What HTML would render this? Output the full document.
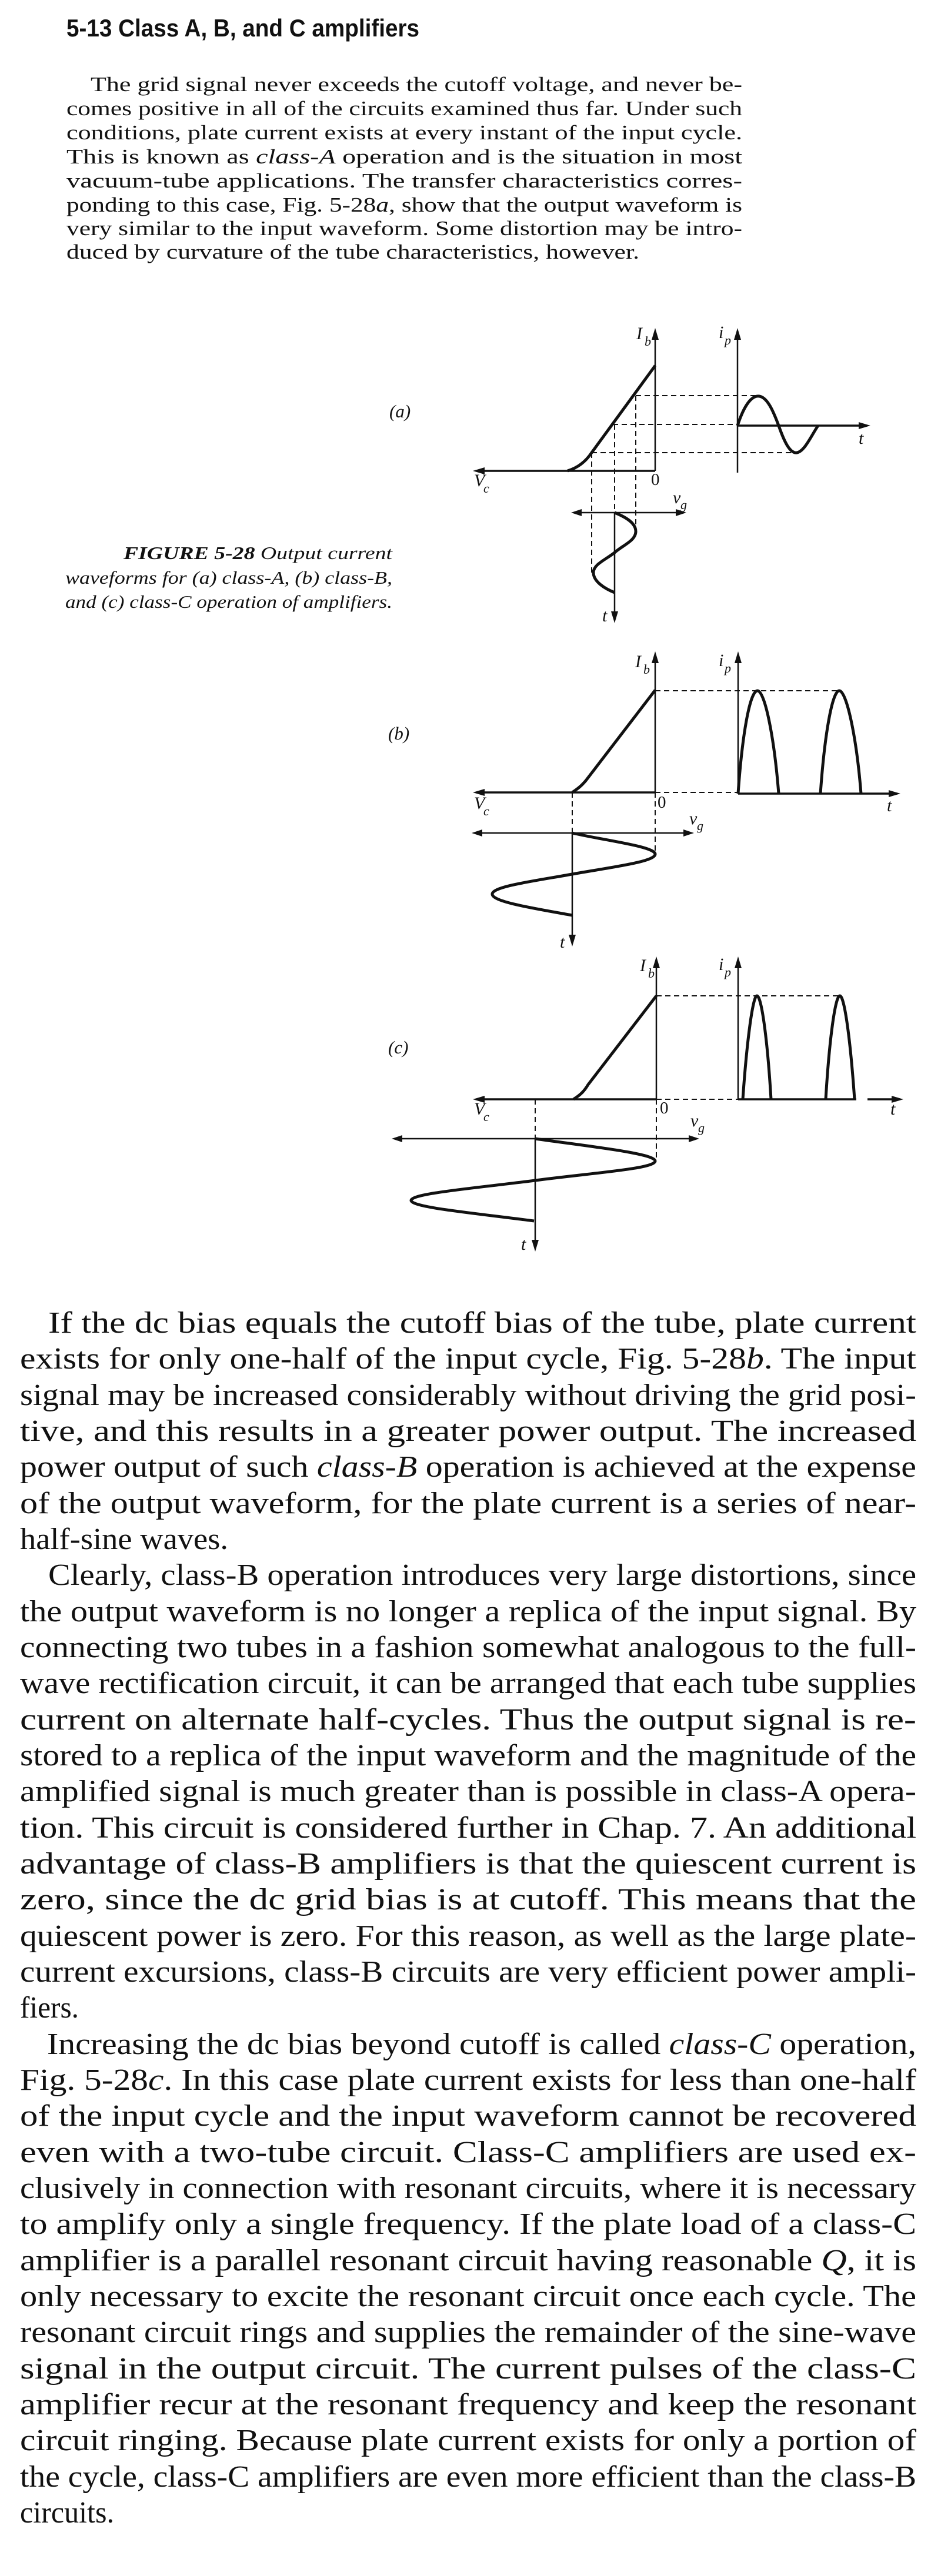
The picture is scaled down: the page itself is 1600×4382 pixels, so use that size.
<!DOCTYPE html>
<html><head><meta charset="utf-8"><style>
html,body{margin:0;padding:0;background:#fff;}
svg{display:block;}
.h{font-family:"Liberation Sans",sans-serif;font-weight:bold;font-size:42px;fill:#111;}
.p{font-family:"Liberation Serif",serif;font-size:35px;fill:#111;}
.b{font-family:"Liberation Serif",serif;font-size:52px;fill:#111;}
.c{font-family:"Liberation Serif",serif;font-style:italic;font-size:31px;fill:#111;}
.l{font-family:"Liberation Serif",serif;font-style:italic;font-size:30px;fill:#111;}
.s{font-family:"Liberation Serif",serif;font-style:italic;font-size:22px;fill:#111;}
.z{font-family:"Liberation Serif",serif;font-size:29px;fill:#111;}
.ax{stroke:#111;stroke-width:2.5;fill:none;}
.th{stroke:#111;stroke-width:3.5;fill:none;}
.cv{stroke:#111;stroke-width:5;fill:none;stroke-linejoin:round;}
.d{stroke:#111;stroke-width:2;fill:none;stroke-dasharray:9 6;}
.ar{fill:#111;}
</style></head><body>
<svg width="1600" height="4382" viewBox="0 0 1600 4382" xmlns="http://www.w3.org/2000/svg">
<text class="h" x="113" y="62" textLength="600" lengthAdjust="spacingAndGlyphs">5-13   Class A, B, and C amplifiers</text>

<g class="p">
<text x="154" y="155" textLength="1108" lengthAdjust="spacingAndGlyphs">The grid signal never exceeds the cutoff voltage, and never be-</text>
<text x="113" y="196" textLength="1149" lengthAdjust="spacingAndGlyphs">comes positive in all of the circuits examined thus far.  Under such</text>
<text x="113" y="237" textLength="1149" lengthAdjust="spacingAndGlyphs">conditions, plate current exists at every instant of the input cycle.</text>
<text x="113" y="278" textLength="1149" lengthAdjust="spacingAndGlyphs">This is known as <tspan font-style="italic">class-A</tspan> operation and is the situation in most</text>
<text x="113" y="319" textLength="1149" lengthAdjust="spacingAndGlyphs">vacuum-tube applications.  The transfer characteristics corres-</text>
<text x="113" y="360" textLength="1149" lengthAdjust="spacingAndGlyphs">ponding to this case, Fig. 5-28<tspan font-style="italic">a</tspan>, show that the output waveform is</text>
<text x="113" y="400" textLength="1149" lengthAdjust="spacingAndGlyphs">very similar to the input waveform.  Some distortion may be intro-</text>
<text x="113" y="440" textLength="974" lengthAdjust="spacingAndGlyphs">duced by curvature of the tube characteristics, however.</text>
</g>

<!-- caption -->
<text class="c" x="210" y="951" textLength="457" lengthAdjust="spacingAndGlyphs"><tspan font-weight="bold">FIGURE 5-28</tspan>   Output current</text>
<text class="c" x="111" y="993" textLength="556" lengthAdjust="spacingAndGlyphs">waveforms for (a) class-A, (b) class-B,</text>
<text class="c" x="111" y="1034" textLength="556" lengthAdjust="spacingAndGlyphs">and (c) class-C operation of amplifiers.</text>
<text class="c" x="662" y="710">(a)</text>
<text class="c" x="660" y="1258">(b)</text>
<text class="c" x="660" y="1792">(c)</text>

<!-- FIGURE (a) -->
<line class="ax" x1="1114" y1="801" x2="1114" y2="572"/>
<polygon class="ar" points="1114,558 1108,578 1120,578"/>
<line class="th" x1="1114" y1="801" x2="818" y2="801"/>
<polygon class="ar" points="804,801 824,795 824,807"/>
<path class="cv" d="M965,801 C985,795 998,782 1006,770 L1114,622"/>
<line class="d" x1="1081" y1="673" x2="1291" y2="673"/>
<line class="d" x1="1042" y1="722" x2="1254" y2="722"/>
<line class="d" x1="1006" y1="770" x2="1355" y2="770"/>
<line class="ax" x1="1254" y1="804" x2="1254" y2="572"/>
<polygon class="ar" points="1254,558 1248,578 1260,578"/>
<line class="th" x1="1254" y1="724" x2="1466" y2="724"/>
<polygon class="ar" points="1480,724 1460,718 1460,730"/>
<path class="cv" d="M1254,724 C1265,690 1278,672 1291,674 C1305,676 1315,700 1324,724 C1333,750 1343,772 1355,770 C1368,768 1380,740 1391,724"/>
<line class="d" x1="1006" y1="770" x2="1006" y2="974"/>
<line class="d" x1="1045" y1="722" x2="1045" y2="872"/>
<line class="d" x1="1081" y1="673" x2="1081" y2="904"/>
<line class="ax" x1="985" y1="872" x2="1153" y2="872"/>
<polygon class="ar" points="971,872 989,866 989,878"/>
<polygon class="ar" points="1167,872 1149,866 1149,878"/>
<line class="ax" x1="1045" y1="872" x2="1045" y2="1046"/>
<polygon class="ar" points="1045,1060 1039,1040 1051,1040"/>
<path class="cv" d="M1045,872 C1065,880 1081,890 1081,904 C1081,920 1058,928 1045,940 C1030,952 1009,960 1009,974 C1009,990 1030,1002 1045,1008"/>
<text class="l" x="1082" y="577">I</text><text class="s" x="1096" y="588">b</text>
<text class="l" x="1222" y="575">i</text><text class="s" x="1232" y="586">p</text>
<text class="l" x="1460" y="755">t</text>
<text class="l" x="806" y="827">V</text><text class="s" x="822" y="838">c</text>
<text class="z" x="1107" y="825">0</text>
<text class="l" x="1144" y="856">v</text><text class="s" x="1157" y="866">g</text>
<text class="l" x="1024" y="1057">t</text>

<!-- FIGURE (b) -->
<line class="ax" x1="1114" y1="1348" x2="1114" y2="1124"/>
<polygon class="ar" points="1114,1108 1108,1128 1120,1128"/>
<line class="th" x1="1114" y1="1348" x2="818" y2="1348"/>
<polygon class="ar" points="804,1348 824,1342 824,1354"/>
<path class="cv" d="M973,1348 C985,1340 990,1335 996,1328 L1114,1174"/>
<line class="d" x1="1114" y1="1175" x2="1427" y2="1175"/>
<line class="ax" x1="1255" y1="1350" x2="1255" y2="1124"/>
<polygon class="ar" points="1255,1108 1249,1128 1261,1128"/>
<line class="d" x1="1114" y1="1348" x2="1255" y2="1348"/>
<line class="th" x1="1255" y1="1350" x2="1517" y2="1350"/>
<polygon class="ar" points="1531,1350 1511,1344 1511,1356"/>
<path class="cv" d="M1255,1350 C1262,1250 1275,1175 1288,1175 C1300,1175 1316,1250 1324,1350"/>
<path class="cv" d="M1395,1350 C1402,1250 1415,1175 1427,1175 C1439,1175 1456,1250 1464,1350"/>
<line class="ax" x1="816" y1="1417" x2="1166" y2="1417"/>
<polygon class="ar" points="802,1417 820,1411 820,1423"/>
<polygon class="ar" points="1180,1417 1162,1411 1162,1423"/>
<line class="d" x1="973" y1="1348" x2="973" y2="1417"/>
<line class="d" x1="1114" y1="1348" x2="1114" y2="1453"/>
<line class="ax" x1="973" y1="1417" x2="973" y2="1596"/>
<polygon class="ar" points="973,1610 967,1590 979,1590"/>
<path class="cv" d="M973,1417 C1030,1430 1114,1440 1114,1453 C1114,1466 1040,1475 973,1487 C906,1499 837,1508 837,1521 C837,1534 906,1545 973,1557"/>
<text class="l" x="1080" y="1135">I</text><text class="s" x="1094" y="1146">b</text>
<text class="l" x="1222" y="1133">i</text><text class="s" x="1232" y="1144">p</text>
<text class="l" x="1508" y="1380">t</text>
<text class="l" x="806" y="1376">V</text><text class="s" x="822" y="1387">c</text>
<text class="z" x="1118" y="1374">0</text>
<text class="l" x="1172" y="1402">v</text><text class="s" x="1185" y="1412">g</text>
<text class="l" x="952" y="1612">t</text>

<!-- FIGURE (c) -->
<line class="ax" x1="1116" y1="1870" x2="1116" y2="1643"/>
<polygon class="ar" points="1116,1627 1110,1647 1122,1647"/>
<line class="th" x1="1116" y1="1870" x2="818" y2="1870"/>
<polygon class="ar" points="804,1870 824,1864 824,1876"/>
<path class="cv" d="M975,1870 C988,1862 994,1855 1000,1845 L1116,1694"/>
<line class="d" x1="1116" y1="1694" x2="1427" y2="1694"/>
<line class="ax" x1="1255" y1="1870" x2="1255" y2="1643"/>
<polygon class="ar" points="1255,1627 1249,1647 1261,1647"/>
<line class="d" x1="1116" y1="1870" x2="1255" y2="1870"/>
<line class="th" x1="1255" y1="1870" x2="1456" y2="1870"/>
<line class="th" x1="1475" y1="1870" x2="1522" y2="1870"/>
<polygon class="ar" points="1536,1870 1516,1864 1516,1876"/>
<path class="cv" d="M1263,1870 C1270,1770 1280,1694 1287,1694 C1295,1694 1305,1770 1311,1870"/>
<path class="cv" d="M1404,1870 C1410,1770 1420,1694 1428,1694 C1436,1694 1446,1770 1453,1870"/>
<line class="ax" x1="680" y1="1937" x2="1175" y2="1937"/>
<polygon class="ar" points="666,1937 684,1931 684,1943"/>
<polygon class="ar" points="1189,1937 1171,1931 1171,1943"/>
<line class="d" x1="910" y1="1870" x2="910" y2="1937"/>
<line class="d" x1="1116" y1="1870" x2="1116" y2="1975"/>
<line class="ax" x1="910" y1="1937" x2="910" y2="2115"/>
<polygon class="ar" points="910,2129 904,2109 916,2109"/>
<path class="cv" d="M910,1937 C1000,1950 1114,1962 1114,1975 C1114,1988 1010,1995 910,2008 C810,2021 699,2030 699,2042 C699,2054 810,2064 908,2077"/>
<text class="l" x="1088" y="1652">I</text><text class="s" x="1102" y="1663">b</text>
<text class="l" x="1222" y="1650">i</text><text class="s" x="1232" y="1661">p</text>
<text class="l" x="1514" y="1896">t</text>
<text class="l" x="806" y="1896">V</text><text class="s" x="822" y="1907">c</text>
<text class="z" x="1122" y="1894">0</text>
<text class="l" x="1174" y="1916">v</text><text class="s" x="1187" y="1926">g</text>
<text class="l" x="886" y="2126">t</text>

<!-- body text -->
<g class="b">
<text x="82" y="2267" textLength="1476" lengthAdjust="spacingAndGlyphs">If the dc bias equals the cutoff bias of the tube, plate current</text>
<text x="34" y="2328" textLength="1524" lengthAdjust="spacingAndGlyphs">exists for only one-half of the input cycle, Fig. 5-28<tspan font-style="italic">b</tspan>.  The input</text>
<text x="34" y="2390" textLength="1524" lengthAdjust="spacingAndGlyphs">signal may be increased considerably without driving the grid posi-</text>
<text x="34" y="2451" textLength="1524" lengthAdjust="spacingAndGlyphs">tive, and this results in a greater power output.  The increased</text>
<text x="34" y="2512" textLength="1524" lengthAdjust="spacingAndGlyphs">power output of such <tspan font-style="italic">class-B</tspan> operation is achieved at the expense</text>
<text x="34" y="2574" textLength="1524" lengthAdjust="spacingAndGlyphs">of the output waveform, for the plate current is a series of near-</text>
<text x="34" y="2635" textLength="354" lengthAdjust="spacingAndGlyphs">half-sine waves.</text>
<text x="82" y="2696" textLength="1476" lengthAdjust="spacingAndGlyphs">Clearly, class-B operation introduces very large distortions, since</text>
<text x="34" y="2758" textLength="1524" lengthAdjust="spacingAndGlyphs">the output waveform is no longer a replica of the input signal.  By</text>
<text x="34" y="2819" textLength="1524" lengthAdjust="spacingAndGlyphs">connecting two tubes in a fashion somewhat analogous to the full-</text>
<text x="34" y="2880" textLength="1524" lengthAdjust="spacingAndGlyphs">wave rectification circuit, it can be arranged that each tube supplies</text>
<text x="34" y="2942" textLength="1524" lengthAdjust="spacingAndGlyphs">current on alternate half-cycles.  Thus the output signal is re-</text>
<text x="34" y="3003" textLength="1524" lengthAdjust="spacingAndGlyphs">stored to a replica of the input waveform and the magnitude of the</text>
<text x="34" y="3064" textLength="1524" lengthAdjust="spacingAndGlyphs">amplified signal is much greater than is possible in class-A opera-</text>
<text x="34" y="3126" textLength="1524" lengthAdjust="spacingAndGlyphs">tion.  This circuit is considered further in Chap. 7.  An additional</text>
<text x="34" y="3187" textLength="1524" lengthAdjust="spacingAndGlyphs">advantage of class-B amplifiers is that the quiescent current is</text>
<text x="34" y="3248" textLength="1524" lengthAdjust="spacingAndGlyphs">zero, since the dc grid bias is at cutoff.  This means that the</text>
<text x="34" y="3310" textLength="1524" lengthAdjust="spacingAndGlyphs">quiescent power is zero.  For this reason, as well as the large plate-</text>
<text x="34" y="3371" textLength="1524" lengthAdjust="spacingAndGlyphs">current excursions, class-B circuits are very efficient power ampli-</text>
<text x="34" y="3432" textLength="100" lengthAdjust="spacingAndGlyphs">fiers.</text>
<text x="80" y="3494" textLength="1478" lengthAdjust="spacingAndGlyphs">Increasing the dc bias beyond cutoff is called <tspan font-style="italic">class-C</tspan> operation,</text>
<text x="34" y="3555" textLength="1524" lengthAdjust="spacingAndGlyphs">Fig. 5-28<tspan font-style="italic">c</tspan>.  In this case plate current exists for less than one-half</text>
<text x="34" y="3616" textLength="1524" lengthAdjust="spacingAndGlyphs">of the input cycle and the input waveform cannot be recovered</text>
<text x="34" y="3678" textLength="1524" lengthAdjust="spacingAndGlyphs">even with a two-tube circuit.  Class-C amplifiers are used ex-</text>
<text x="34" y="3739" textLength="1524" lengthAdjust="spacingAndGlyphs">clusively in connection with resonant circuits, where it is necessary</text>
<text x="34" y="3800" textLength="1524" lengthAdjust="spacingAndGlyphs">to amplify only a single frequency.  If the plate load of a class-C</text>
<text x="34" y="3862" textLength="1524" lengthAdjust="spacingAndGlyphs">amplifier is a parallel resonant circuit having reasonable <tspan font-style="italic">Q</tspan>, it is</text>
<text x="34" y="3923" textLength="1524" lengthAdjust="spacingAndGlyphs">only necessary to excite the resonant circuit once each cycle.  The</text>
<text x="34" y="3984" textLength="1524" lengthAdjust="spacingAndGlyphs">resonant circuit rings and supplies the remainder of the sine-wave</text>
<text x="34" y="4046" textLength="1524" lengthAdjust="spacingAndGlyphs">signal in the output circuit.  The current pulses of the class-C</text>
<text x="34" y="4107" textLength="1524" lengthAdjust="spacingAndGlyphs">amplifier recur at the resonant frequency and keep the resonant</text>
<text x="34" y="4168" textLength="1524" lengthAdjust="spacingAndGlyphs">circuit ringing.  Because plate current exists for only a portion of</text>
<text x="34" y="4230" textLength="1524" lengthAdjust="spacingAndGlyphs">the cycle, class-C amplifiers are even more efficient than the class-B</text>
<text x="34" y="4291" textLength="160" lengthAdjust="spacingAndGlyphs">circuits.</text>
</g>
</svg>
</body></html>
